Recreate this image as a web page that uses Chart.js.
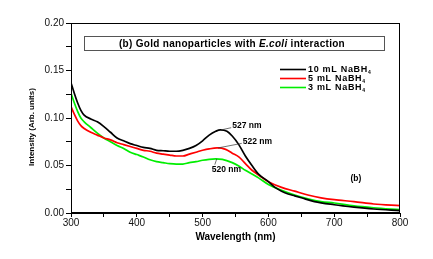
<!DOCTYPE html>
<html><head><meta charset="utf-8">
<script src="https://cdn.jsdelivr.net/npm/chart.js@4/dist/chart.umd.min.js"></script>
<style>html,body{margin:0;padding:0;background:#fff}canvas{display:block}</style>
</head><body>
<canvas id="c" width="433" height="259"></canvas>
<script>
const seriesLabels = ['10 mL NaBH', '5 mL NaBH', '3 mL NaBH'];
const seriesColors = ['#000000', '#ff0000', '#00ee00'];
const wl10 = [300,305,310,315,320,330,340,350,360,370,380,390,400,410,420,430,440,450,460,470,480,490,500,510,520,527,537,545,555,565,575,585,600,610,620,630,640,650,670,700,730,760,800];
const int10 = [0.137,0.126,0.116,0.108,0.103,0.099,0.096,0.091,0.085,0.079,0.076,0.073,0.071,0.069,0.068,0.066,0.0655,0.065,0.065,0.066,0.068,0.071,0.076,0.082,0.086,0.0875,0.086,0.081,0.072,0.060,0.050,0.041,0.033,0.027,0.023,0.020,0.018,0.016,0.012,0.0087,0.0062,0.0042,0.0025];
const wl5 = [300,305,310,315,320,330,340,350,360,370,380,390,400,410,420,430,440,450,460,470,480,490,500,510,522,535,545,555,565,575,585,600,620,640,660,680,700,730,760,800];
const int5 = [0.112,0.104,0.097,0.092,0.089,0.085,0.082,0.079,0.077,0.074,0.072,0.070,0.068,0.066,0.065,0.063,0.062,0.061,0.060,0.060,0.062,0.064,0.066,0.0675,0.0685,0.067,0.063,0.059,0.052,0.045,0.040,0.033,0.027,0.023,0.019,0.016,0.014,0.012,0.0095,0.0077];
const wl3 = [300,305,310,315,320,330,340,350,360,370,380,390,400,410,420,430,440,450,460,470,480,490,500,510,520,530,545,555,565,575,585,600,620,640,660,680,700,730,760,800];
const int3 = [0.126,0.116,0.107,0.100,0.096,0.090,0.084,0.079,0.075,0.071,0.068,0.064,0.0615,0.059,0.056,0.054,0.053,0.052,0.0515,0.0515,0.053,0.054,0.0555,0.0565,0.057,0.0565,0.053,0.0495,0.045,0.041,0.037,0.030,0.024,0.019,0.015,0.012,0.0105,0.0075,0.0055,0.0035];
const xTicks = [300,400,500,600,700,800];
const yTicks = [0.00,0.05,0.10,0.15,0.20];
const peakNotes = [
  {text:'527 nm', tx:545, ty:0.0919, px:527, py:0.0875},
  {text:'522 nm', tx:561, ty:0.0754, px:522, py:0.0685},
  {text:'520 nm', tx:514, ty:0.0456, px:520, py:0.057}
];
const titleText = ['(b) Gold nanoparticles with ', 'E.coli', ' interaction'];

const toXY = (xs, ys) => xs.map((x, i) => ({x, y: ys[i]}));
const FONT = 'Liberation Sans, Arial, sans-serif';

const deco = {
  id: 'deco',
  afterDraw(chart) {
    const ctx = chart.ctx, a = chart.chartArea, sx = chart.scales.x, sy = chart.scales.y;
    ctx.save();
    ctx.strokeStyle = '#000'; ctx.lineWidth = 1;
    ctx.strokeRect(a.left + 0.5, a.top + 0.5, a.right - a.left - 1, a.bottom - a.top - 1);
    // title box
    ctx.strokeStyle = '#555'; ctx.lineWidth = 1;
    ctx.strokeRect(84.5, 36.5, 300, 14);
    ctx.fillStyle = '#000';
    ctx.textBaseline = 'middle';
    ctx.letterSpacing = '0.3px';
    const fonts = ['bold 10px ' + FONT, 'italic bold 10px ' + FONT, 'bold 10px ' + FONT];
    let widths = titleText.map((t, i) => { ctx.font = fonts[i]; return ctx.measureText(t).width; });
    let total = widths.reduce((s, w) => s + w, 0);
    let x = 232 - total / 2;
    titleText.forEach((t, i) => { ctx.font = fonts[i]; ctx.textAlign = 'left'; ctx.fillText(t, x, 44); x += widths[i]; });
    // legend
    const ly = [69.5, 78.5, 87.5];
    ctx.letterSpacing = '0.7px';
    seriesLabels.forEach((lab, i) => {
      ctx.strokeStyle = seriesColors[i]; ctx.lineWidth = 1.6;
      ctx.beginPath(); ctx.moveTo(280, ly[i]); ctx.lineTo(306, ly[i]); ctx.stroke();
      ctx.fillStyle = '#000'; ctx.font = 'bold 9px ' + FONT; ctx.textAlign = 'left';
      ctx.fillText(lab, 308, ly[i]);
      const w = ctx.measureText(lab).width;
      ctx.font = 'bold 5px ' + FONT;
      ctx.fillText('4', 308 + w, ly[i] + 3);
    });
    ctx.letterSpacing = '0px';
    // peak notes
    ctx.font = 'bold 8.5px ' + FONT; ctx.textAlign = 'left'; ctx.fillStyle = '#000';
    peakNotes.forEach(n => {
      const tx = sx.getPixelForValue(n.tx), ty = sy.getPixelForValue(n.ty);
      const px = sx.getPixelForValue(n.px), py = sy.getPixelForValue(n.py);
      ctx.fillText(n.text, tx, ty);
      ctx.strokeStyle = '#333'; ctx.lineWidth = 0.7;
      const sxp = n.ty < n.py ? tx + 3 : tx - 1;
      const syp = n.ty < n.py ? ty - 5 : ty + 2;
      ctx.beginPath(); ctx.moveTo(sxp, syp); ctx.lineTo(px + 1, py); ctx.stroke();
    });
    ctx.font = 'bold 8.5px ' + FONT; ctx.textAlign = 'center';
    ctx.fillText('(b)', sx.getPixelForValue(733), sy.getPixelForValue(0.036));
    // y title
    ctx.translate(32, 127); ctx.rotate(-Math.PI / 2);
    ctx.font = 'bold 8px ' + FONT; ctx.textAlign = 'center';
    ctx.fillText('Intensity (Arb. units)', 0, 0);
    ctx.restore();
  }
};

const ds = (i, xs, ys) => ({label: seriesLabels[i], data: toXY(xs, ys), borderColor: seriesColors[i], borderWidth: 1.7, pointRadius: 0, cubicInterpolationMode: 'monotone', order: i + 1});

new Chart(document.getElementById('c'), {
  type: 'line',
  data: {datasets: [ds(0, wl10, int10), ds(1, wl5, int5), ds(2, wl3, int3)]},
  options: {
    responsive: false, animation: false,
    layout: {padding: {left: 0, right: 33, top: 23, bottom: 16}},
    plugins: {legend: {display: false}, tooltip: {enabled: false}},
    scales: {
      x: {
        type: 'linear', min: 300, max: 800,
        afterBuildTicks: s => { s.ticks = []; for (let v = 300; v <= 800; v += 50) s.ticks.push({value: v}); },
        afterFit: s => { s.height = 30; },
        ticks: {callback: v => xTicks.includes(v) ? String(v) : '', color: '#111', font: {family: FONT, size: 10}, padding: 0, maxRotation: 0, autoSkip: false},
        grid: {drawOnChartArea: false, drawTicks: true, tickLength: 4, color: '#000'},
        border: {color: '#000'},
        title: {display: true, text: 'Wavelength (nm)', color: '#000', font: {family: FONT, size: 10, weight: 'bold'}, padding: 0}
      },
      y: {
        type: 'linear', min: 0, max: 0.2,
        afterBuildTicks: s => { s.ticks = []; for (let k = 0; k <= 8; k++) s.ticks.push({value: +(k * 0.025).toFixed(3)}); },
        afterFit: s => { s.width = 71; },
        ticks: {callback: v => yTicks.some(t => Math.abs(t - v) < 1e-9) ? v.toFixed(2) : '', color: '#111', font: {family: FONT, size: 10}, padding: 2, autoSkip: false},
        grid: {drawOnChartArea: false, drawTicks: true, tickLength: 5, color: '#000'},
        border: {color: '#000'}
      }
    }
  },
  plugins: [deco]
});
</script>
</body></html>
